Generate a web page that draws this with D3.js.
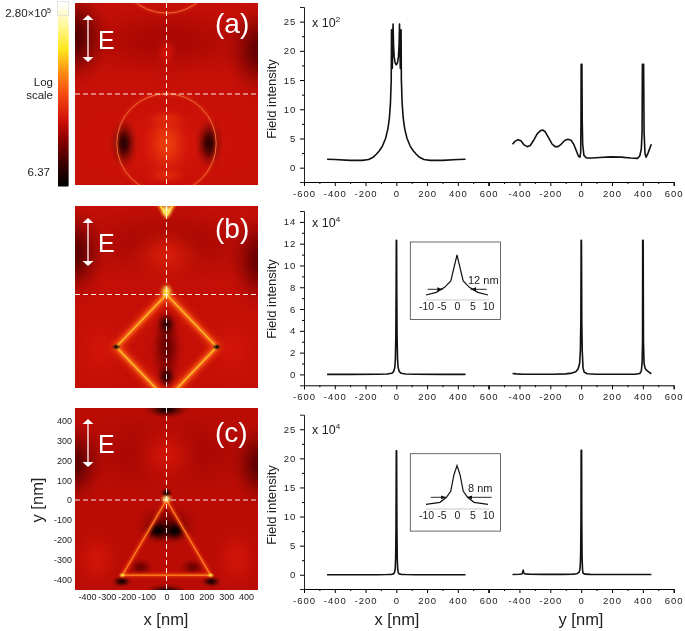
<!DOCTYPE html>
<html><head><meta charset="utf-8">
<style>html,body{margin:0;background:#fff}svg{display:block;filter:blur(.35px)}
text{font-family:"Liberation Sans",Arial,sans-serif;fill:#222}</style>
<script src="https://cdnjs.cloudflare.com/ajax/libs/d3/7.8.5/d3.min.js"></script></head><body>
<svg id="c" width="685" height="631"></svg>
<script>
// ---------- Line profile data: [position nm, intensity] ----------
const axRange=[-600,-400,-200,0,200,400,600];
const profileAX=[[-450,1.45],[-400,1.4],[-300,1.25],[-220,1.25],[-180,1.4],[-150,1.8],[-130,2.3],[-110,2.9],[-90,3.7],[-70,5],[-55,6.6],[-45,8.5],[-38,11],[-33,15],[-31,23.6],[-29,17],[-26,17],[-24,20],[-21,24.6],[-18,21],[-14,19],[-8,18],[0,17.6],[8,18],[14,19],[18,21],[21,24.6],[24,20],[26,17],[29,17],[31,23.6],[33,15],[38,11],[45,8.5],[55,6.6],[70,5],[90,3.7],[110,2.9],[130,2.3],[150,1.8],[180,1.4],[220,1.25],[300,1.25],[400,1.4],[450,1.45]];
const profileAY=[[-445,4],[-430,4.5],[-410,4.8],[-390,4.6],[-370,3.9],[-350,3.6],[-330,3.8],[-310,4.6],[-285,5.8],[-265,6.3],[-250,6.45],[-235,6.2],[-215,5.3],[-190,4.1],[-170,3.6],[-150,3.6],[-130,4],[-105,4.7],[-85,4.85],[-65,4.7],[-48,4],[-30,2.8],[-18,2],[-8,1.8],[-3,2.6],[-1,8],[0,17.7],[2,17.7],[5,17.7],[7,8],[10,4],[18,2.1],[35,1.65],[70,1.65],[120,1.75],[190,1.85],[260,1.8],[320,1.65],[365,1.6],[380,2],[390,3.2],[395,6],[397,17.7],[402,17.7],[405,17.7],[408,6],[414,2.4],[421,1.8],[432,2.4],[445,3.3],[455,4]];
const profileBX=[[-450,0],[-300,0],[-120,.01],[-60,.04],[-30,.1],[-18,.25],[-10,.6],[-6,1.4],[-3,3.5],[-1,8],[0,12.3],[2,12.3],[3,8],[5,3.5],[8,1.4],[12,.6],[20,.25],[32,.1],[60,.04],[120,.01],[300,0],[450,0]];
const profileBY=[[-445,.09],[-420,.05],[-380,.02],[-300,.01],[-180,.01],[-100,.05],[-60,.12],[-35,.25],[-20,.5],[-10,1],[-5,2.2],[-2,5],[0,12.3],[2,12.3],[4,5],[7,2.2],[12,.6],[20,.2],[40,.06],[100,.01],[250,.01],[350,.02],[380,.08],[390,.3],[395,1],[398,3],[399,12.3],[402,12.3],[404,3],[408,1],[415,.55],[425,.38],[440,.2],[455,.06]];
const profileCX=[[-450,0],[-300,0],[-120,.01],[-60,.03],[-30,.07],[-18,.15],[-12,.35],[-7,1],[-4,3],[-2,8],[0,21.3],[2,21.3],[4,8],[6,3],[9,1],[13,.35],[18,.15],[30,.07],[60,.03],[120,.01],[300,0],[450,0]];
const profileCY=[[-445,.05],[-400,.08],[-385,.12],[-380,.3],[-376,.8],[-372,.3],[-365,.14],[-340,.1],[-250,.07],[-120,.07],[-50,.1],[-28,.18],[-14,.4],[-8,.9],[-5,2],[-3,4],[-1,10],[0,21.4],[3,21.4],[4,9],[6,3],[9,.8],[13,.25],[25,.1],[60,.06],[200,.04],[350,.04],[455,.04]];
const insetB=[[-10,15],[-6.7,23],[-4,38],[-2,57],[0,135],[2,57],[4,38],[6.7,23],[10,15]];
const insetC=[[-10,14],[-5.5,20],[-3.4,35],[-2,54],[-1,102],[0,130],[1,102],[2,54],[3.4,35],[5.5,20],[10,14]];
const insetTicks=[-10,-5,0,5,10];
const mapTicks=[-400,-300,-200,-100,0,100,200,300,400];
const panels=["(a)","(b)","(c)"];
const exps=["2","4","4"];
const yTicksLabelled=[[0,5,10,15,20,25],[0,2,4,6,8,10,12,14],[0,5,10,15,20,25]];
const yDomains=[[-2.45,27.5],[-1,15],[-2.45,27.5]];
// ---------- Field maps: blobs [x,y,rx,ry,level 0..1] in nm ----------
const baseLevel=[.345,.34,.325];
const blobsA=[[0,-250,600,260,.36],[0,270,620,230,.295],[-460,290,190,270,.16],[470,220,190,260,.18],[0,-250,270,260,.37],[0,-250,125,180,.47],[0,-125,110,45,.42],[0,-410,110,45,.42],[-215,-250,75,135,.08],[215,-250,75,135,.08],[0,210,60,100,.365]];
const blobsB=[[0,260,620,230,.29],[-460,210,170,260,.17],[470,170,170,260,.19],[0,200,220,170,.385],[0,-270,90,220,.19],[0,-150,55,70,.1],[0,-415,55,70,.1],[-330,-280,150,200,.365],[330,-280,150,200,.365]];
const blobsC=[[0,240,620,230,.29],[-460,190,150,220,.17],[470,180,150,220,.17],[0,230,200,190,.365],[0,460,120,50,.04],[0,-465,115,45,.0],[0,-125,170,120,.2],[-42,-155,80,62,0],[42,-155,80,62,0],[0,35,34,28,.03],[-225,-412,55,32,.05],[225,-412,55,32,.05],[-130,-340,70,50,.2],[130,-340,70,50,.2],[-350,-300,130,180,.365],[350,-300,130,180,.365]];
const circleA=[[0,-250,250],[0,660,250]];
const diamondB=[[0,0],[253,-265],[0,-530],[-253,-265],[0,0]];
const diamondTop=[[-45,470],[0,400],[45,470]];
const triangleC=[[0,0],[222,-380],[-222,-380],[0,0]];
const sparksB=[[0,15,40,48,.8],[0,425,38,45,.85],[-253,-265,26,18,0],[253,-265,26,18,0]];
const sparksC=[[0,5,36,30,.85],[-222,-380,20,15,.78],[222,-380,20,15,.78]];
// ---------- Colour scale ----------
const stopPos=[0,.12,.25,.36,.5,.62,.75,.88,1];
const stopCol=["#000","#3a0000","#8c0000","#d01208","#f44a10","#ff8c14","#ffe81c","#fff79a","#fff"];
const hot=d3.scaleLinear().domain(stopPos).range(stopCol).clamp(true);
const barMin=6.37,barMax=2.8e5;
const barLog=d3.scaleLog().domain([barMin,barMax]).range([0,1]);
const barScale=d3.scaleLinear().domain([0,1]).range([185,3]);
const fadePos=[0,.2,.4,.6,.8,1], fadeOp=[1,.88,.6,.3,.09,0];

const svg=d3.select("#c");
const defs=svg.append("defs");
[["b4",3.2],["b2",1.4],["b1",.6]].forEach(([id,s])=>{
 defs.append("filter").attr("id",id).attr("x",0).attr("y",0).attr("width",685).attr("height",631)
 .attr("filterUnits","userSpaceOnUse").append("feGaussianBlur").attr("stdDeviation",s);});
let gid=0;
function softFill(level){
 const id="g"+(gid++);
 const gr=defs.append("radialGradient").attr("id",id);
 fadePos.forEach((o,i)=>gr.append("stop").attr("offset",o).attr("stop-color",hot(level)).attr("stop-opacity",fadeOp[i]));
 return `url(#${id})`;
}

// colour bar
const barVals=d3.range(0,92).map(i=>barMin*Math.pow(barMax/barMin,i/91));
svg.append("g").selectAll("rect").data(barVals).join("rect")
 .attr("x",58).attr("width",10.5).attr("y",d=>barScale(barLog(d))-1.5).attr("height",3)
 .attr("fill",d=>hot(barLog(d)));
svg.append("rect").attr("x",57.5).attr("y",1.5).attr("width",11).attr("height",14).attr("fill","none").attr("stroke","#ddd").attr("stroke-width",.7);
const tl=(x,y,t,a,s)=>svg.append("text").attr("x",x).attr("y",y).attr("text-anchor",a||"start").attr("font-size",s||11).text(t);
const hd=tl(51,17,"2.80×10","end",11.5); hd.append("tspan").attr("font-size",7).attr("dy",-4).text("5");
tl(53,86,"Log","end",11.5); tl(53,99,"scale","end",11.5); tl(50,176,"6.37","end",11.5);

// maps
const mapTop=[3,206,408], mapZero=[94,294.5,500];
const mapX=d3.scaleLinear().domain([-460,460]).range([75,258]);
const blobSets=[blobsA,blobsB,blobsC];
const sparkSets=[[],sparksB,sparksC];
const plain=d=>String(d);
panels.forEach((p,i)=>{
 const z=mapZero[i], Y=d3.scaleLinear().domain([-460,460]).range([z+91,z-91]);
 const sx=mapX(1)-mapX(0);
 defs.append("clipPath").attr("id","clip"+i).append("rect").attr("x",75).attr("y",mapTop[i]).attr("width",183).attr("height",182);
 const g=svg.append("g").attr("clip-path",`url(#clip${i})`);
 g.append("rect").attr("x",75).attr("y",mapTop[i]).attr("width",183).attr("height",182).attr("fill",hot(baseLevel[i]));
 const drawBlobs=data=>g.append("g").selectAll("ellipse").data(data).join("ellipse")
  .attr("cx",d=>mapX(d[0])).attr("cy",d=>Y(d[1])).attr("rx",d=>d[2]*sx).attr("ry",d=>d[3]*sx)
  .attr("fill",d=>softFill(d[4]));
 drawBlobs(blobSets[i]);
 const lp=d3.line().x(d=>mapX(d[0])).y(d=>Y(d[1]));
 if(i===0){
  circleA.forEach(c=>{
   g.append("circle").attr("cx",mapX(c[0])).attr("cy",Y(c[1])).attr("r",c[2]*sx).attr("fill","none").attr("stroke","#f4501a").attr("stroke-width",2.4).attr("opacity",.4).attr("filter","url(#b2)");
   g.append("circle").attr("cx",mapX(c[0])).attr("cy",Y(c[1])).attr("r",c[2]*sx).attr("fill","none").attr("stroke","#f4703a").attr("stroke-width",.9);
  });
 }
 if(i===1){
  [[diamondB,8,"#ee3c0c","url(#b4)"],[diamondB,4,"#f8701a","url(#b2)"],[diamondB,1.6,"#ffb424","url(#b1)"],[diamondTop,4,"#ff9a14","url(#b2)"],[diamondTop,1.4,"#ffe030","url(#b1)"]].forEach(([pts,w,c,f])=>
   g.append("path").attr("d",lp(pts)).attr("fill","none").attr("stroke",c).attr("stroke-width",w).attr("filter",f));
 }
 if(i===2){
  [[triangleC,3.4,"#ee3c0c","url(#b2)"],[triangleC,1.1,"#ff8a22","url(#b1)"]].forEach(([pts,w,c,f])=>
   g.append("path").attr("d",lp(pts)).attr("fill","none").attr("stroke",c).attr("stroke-width",w).attr("filter",f));
 }
 drawBlobs(sparkSets[i]);
 // cross-hair
 g.append("line").attr("x1",75).attr("x2",258).attr("y1",z).attr("y2",z).attr("stroke","#fff").attr("stroke-width",1).attr("stroke-dasharray","5 3").attr("opacity",.9);
 g.append("line").attr("x1",mapX(0)).attr("x2",mapX(0)).attr("y1",mapTop[i]).attr("y2",mapTop[i]+182).attr("stroke","#fff").attr("stroke-width",1).attr("stroke-dasharray","5 3").attr("opacity",.9);
 // E arrow
 const a0=[15,218,419][i],a1=[62,266,467][i];
 svg.append("line").attr("x1",88).attr("x2",88).attr("y1",a0+3).attr("y2",a1-3).attr("stroke","#fff").attr("stroke-width",1.3);
 [[a0,1],[a1,-1]].forEach(([y,s])=>svg.append("path").attr("d",`M88 ${y}L93.5 ${y+5*s}L82.5 ${y+5*s}Z`).attr("fill","#fff"));
 svg.append("text").attr("x",98).attr("y",[49,252,453][i]).attr("font-size",25).style("fill","#fff").text("E");
 svg.append("text").attr("x",215).attr("y",[33,238,442][i]).attr("font-size",28).style("fill","#fff").text(p);
 if(i===2){
  const ya=d3.axisLeft(Y).tickValues(mapTicks).tickSize(0).tickPadding(0).tickFormat(plain);
  const yg=svg.append("g").attr("transform","translate(72,0)").call(ya);
  yg.select(".domain").remove(); yg.selectAll("text").attr("font-size",9).style("font-family","Liberation Sans");
  const xa=d3.axisBottom(mapX).tickValues(mapTicks).tickSize(0).tickPadding(0).tickFormat(plain);
  const xg=svg.append("g").attr("transform","translate(0,594)").call(xa);
  xg.select(".domain").remove(); xg.selectAll("text").attr("font-size",9).style("font-family","Liberation Sans");
 }
});
svg.append("text").attr("transform","translate(43,500) rotate(-90)").attr("text-anchor","middle").attr("font-size",16.5).text("y [nm]");
tl(166,625,"x [nm]","middle",16.5);

// profile charts
const bottoms=[182,385.3,589], tops=[7,211,414.7];
const profileSets=[[profileAX,profileAY],[profileBX,profileBY],[profileCX,profileCY]];
const xA=d3.scaleLinear().domain([-600,600]).range([304,488.6]);
const xB=d3.scaleLinear().domain([-600,600]).range([488.6,673.7]);
panels.forEach((p,i)=>{
 const d=yDomains[i], bot=bottoms[i], top=tops[i];
 const y=d3.scaleLinear().domain(d).range([bot,top]);
 const maj=yTicksLabelled[i], step=maj[1]-maj[0];
 const minor=d3.range(0,d[1],step/2).filter(v=>!maj.includes(v));
 const yg=svg.append("g").attr("transform",`translate(304,0)`).call(d3.axisLeft(y).tickValues(maj).tickSize(4).tickPadding(4));
 yg.select(".domain").attr("stroke","#222");
 yg.selectAll("text").attr("font-size",9.5).attr("letter-spacing",.8).style("font-family","Liberation Sans");
 svg.append("g").attr("transform",`translate(304,0)`).call(d3.axisLeft(y).tickValues(minor).tickSize(2).tickFormat("")).select(".domain").remove();
 [xA,xB].forEach((x,k)=>{
  const ticks=k?axRange.slice(1):axRange;
  const xg=svg.append("g").attr("transform",`translate(0,${bot})`).call(d3.axisBottom(x).tickValues(ticks).tickSize(4).tickPadding(4).tickFormat(plain));
  xg.selectAll("text").attr("font-size",9.5).attr("letter-spacing",1).style("font-family","Liberation Sans");
  svg.append("g").attr("transform",`translate(0,${bot})`).call(d3.axisBottom(x).tickValues(d3.range(-500,600,200)).tickSize(2).tickFormat("")).select(".domain").remove();
  svg.append("path").attr("d",d3.line().x(q=>x(q[0])).y(q=>y(q[1]))(profileSets[i][k])).attr("fill","none").attr("stroke","#111").attr("stroke-width",1.6).attr("stroke-linejoin","round");
 });
 svg.append("text").attr("transform",`translate(276,${[99,299,505][i]}) rotate(-90)`).attr("text-anchor","middle").attr("font-size",13).text("Field intensity");
 const t=tl(312,[27,227,434][i],"x 10",null,12.5);
 t.append("tspan").attr("font-size",8).attr("dy",-5).text(exps[i]);
});
tl(397,625,"x [nm]","middle",16.5); tl(581,625,"y [nm]","middle",16.5);

// insets
defs.append("marker").attr("id","ah").attr("viewBox","0 0 6 6").attr("refX",6).attr("refY",3).attr("markerWidth",6).attr("markerHeight",6).attr("orient","auto").append("path").attr("d","M0 .8L6 3L0 5.2Z").attr("fill","#111");
[[insetB,242,300,"12 nm",468,284,427.7,442.7,486.7,470.7,289.3],[insetC,453.7,509,"8 nm",468,492,430.7,446,491.7,467,497.3]].forEach(([dat,boxY,base,lab,tx,ty,l0,l1,r0,r1,ay])=>{
 svg.append("rect").attr("x",410.3).attr("y",boxY).attr("width",90.2).attr("height",77.4).attr("fill","#fff").attr("stroke","#444").attr("stroke-width",.8);
 const ix=d3.scaleLinear().domain([-10,10]).range([426,488]);
 const iy=d3.scaleLinear().domain([0,135]).range([base,base-45]);
 svg.append("line").attr("x1",426).attr("x2",489).attr("y1",iy(0)).attr("y2",iy(0)).attr("stroke","#bbb").attr("stroke-width",.8);
 svg.append("path").attr("d",d3.line().x(q=>ix(q[0])).y(q=>iy(q[1]))(dat)).attr("fill","none").attr("stroke","#111").attr("stroke-width",1.2);
 const tg=svg.append("g").attr("transform",`translate(0,${base+1})`).call(d3.axisBottom(ix).tickValues(insetTicks).tickSize(0).tickPadding(2).tickFormat(plain));
 tg.select(".domain").remove(); tg.selectAll("text").attr("font-size",10.5).style("font-family","Liberation Sans");
 [[l0,l1],[r0,r1]].forEach(([a,b])=>svg.append("line").attr("x1",a).attr("x2",b).attr("y1",ay).attr("y2",ay).attr("stroke","#111").attr("stroke-width",.9).attr("marker-end","url(#ah)"));
 tl(tx,ty,lab,"start",11);
});
</script></body></html>
